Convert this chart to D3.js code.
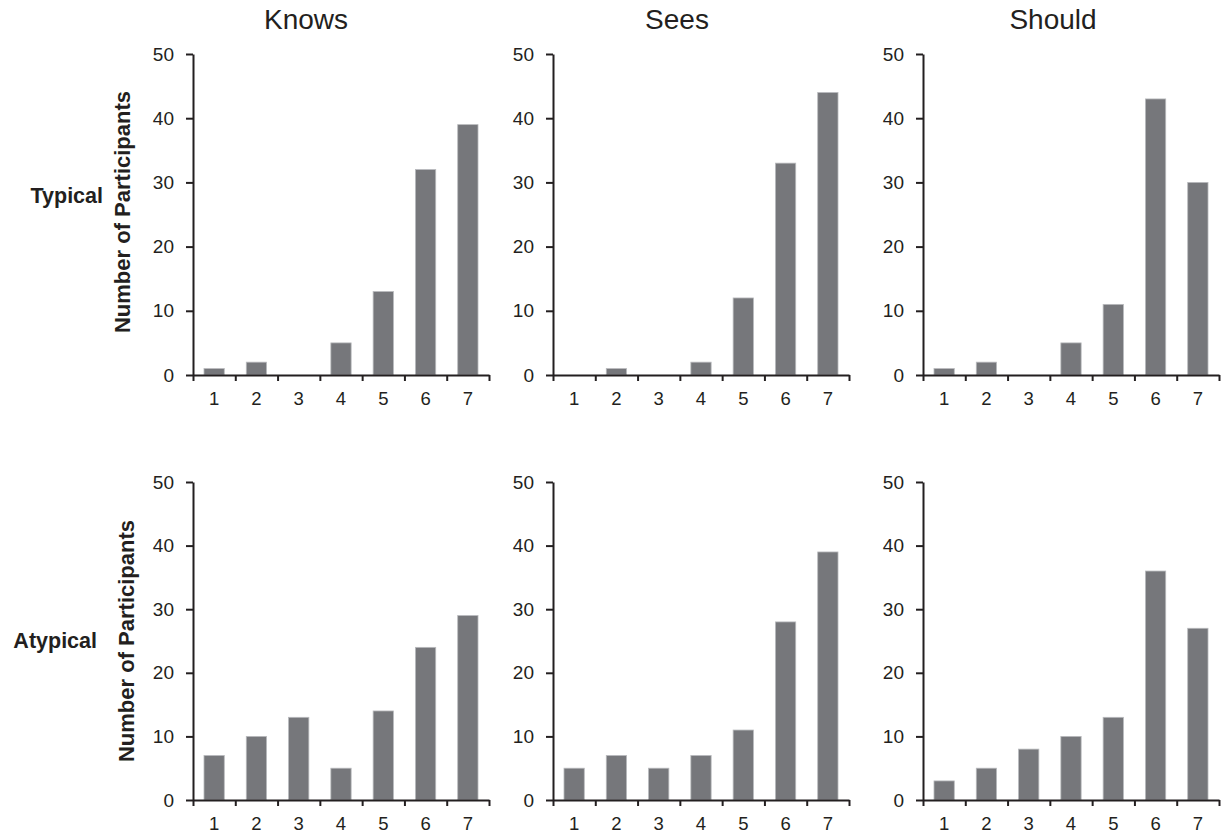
<!DOCTYPE html>
<html>
<head>
<meta charset="utf-8">
<script src="https://cdn.jsdelivr.net/npm/d3@7.9.0/dist/d3.min.js"></script>
<style>
  body { margin: 0; background: #fff; }
  svg { display: block; font-family: "Liberation Sans", Arial, sans-serif; }
</style>
</head>
<body>
<svg id="chart" width="1226" height="835"></svg>
<script>
// rating scale categories
const ratings = ["1", "2", "3", "4", "5", "6", "7"];
const yTicks = [0, 10, 20, 30, 40, 50];
const columns = ["Knows", "Sees", "Should"];
const rows = ["Typical", "Atypical"];

// counts of participants per rating
const typicalKnows = [1, 2, 0, 5, 13, 32, 39];
const typicalSees = [0, 1, 0, 2, 12, 33, 44];
const typicalShould = [1, 2, 0, 5, 11, 43, 30];
const atypicalKnows = [7, 10, 13, 5, 14, 24, 29];
const atypicalSees = [5, 7, 5, 7, 11, 28, 39];
const atypicalShould = [3, 5, 8, 10, 13, 36, 27];

const series = [
    [typicalKnows, typicalSees, typicalShould],
    [atypicalKnows, atypicalSees, atypicalShould]
];

const svg = d3.select("#chart");
const font = "Liberation Sans, Arial, sans-serif";

// panel layout
const colX = [193, 553, 923];
const panelW = 296;
const rowTop = [54, 482];
const panelH = [321, 318];
const titleX = [306, 677, 1053];
const yLabelX = [130, 134];
const yLabelY = [212, 641];
const rowLabelX = [103, 97];
const rowLabelY = [203, 648];
const ink = "#231f20";

rows.forEach((rowName, r) => {
    columns.forEach((colName, c) => {
        const values = series[r][c];
        const g = svg.append("g").attr("transform", `translate(${colX[c]},${rowTop[r]})`);

        const y = d3.scaleLinear().domain([0, 50]).range([panelH[r], 0]);
        const x = d3.scaleBand().domain(ratings).range([0, panelW])
            .paddingInner(0.52).paddingOuter(0.26);
        const xEdge = d3.scaleLinear().domain([0, 7]).range([0, panelW]);

        g.selectAll("rect")
            .data(values)
            .enter().append("rect")
            .attr("x", (d, i) => x(ratings[i]))
            .attr("y", d => y(d))
            .attr("width", x.bandwidth())
            .attr("height", d => y(0) - y(d))
            .attr("fill", "#76777b")
            .attr("stroke", "#b9babd")
            .attr("stroke-width", 0.8);

        // x axis: ticks at category edges
        const xa = g.append("g").attr("transform", `translate(0,${panelH[r]})`)
            .call(d3.axisBottom(xEdge).tickValues(d3.range(8)).tickFormat("").tickSize(6).tickSizeOuter(0));
        xa.select(".domain").attr("stroke", ink).attr("stroke-width", 2);
        xa.selectAll(".tick line").attr("stroke", ink).attr("stroke-width", 2);

        // x labels centred in each category
        const xl = g.append("g").attr("transform", `translate(0,${panelH[r]})`)
            .call(d3.axisBottom(x).tickSize(0).tickPadding(17));
        xl.select(".domain").remove();
        xl.selectAll("text").attr("font-size", 18.5).attr("fill", ink).attr("font-family", font);

        // y axis
        const ya = g.append("g")
            .call(d3.axisLeft(y).tickValues(yTicks).tickSize(7).tickSizeOuter(0).tickPadding(12));
        ya.select(".domain").attr("stroke", ink).attr("stroke-width", 2);
        ya.selectAll(".tick line").attr("stroke", ink).attr("stroke-width", 2);
        ya.selectAll("text").attr("font-size", 19).attr("fill", ink).attr("font-family", font);

        if (r === 0) {
            svg.append("text")
                .attr("x", titleX[c])
                .attr("y", 29)
                .attr("text-anchor", "middle")
                .attr("font-size", 28)
                .attr("fill", ink)
                .text(colName);
        }

        if (c === 0) {
            svg.append("text")
                .attr("transform", `translate(${yLabelX[r]},${yLabelY[r]}) rotate(-90)`)
                .attr("text-anchor", "middle")
                .attr("font-size", 22)
                .attr("font-weight", "bold")
                .attr("fill", ink)
                .text("Number of Participants");
        }
    });

    // row labels
    svg.append("text").attr("x", rowLabelX[r]).attr("y", rowLabelY[r]).attr("text-anchor", "end")
        .attr("font-size", 21.5).attr("font-weight", "bold").attr("fill", ink).text(rowName);
});
</script>
</body>
</html>
